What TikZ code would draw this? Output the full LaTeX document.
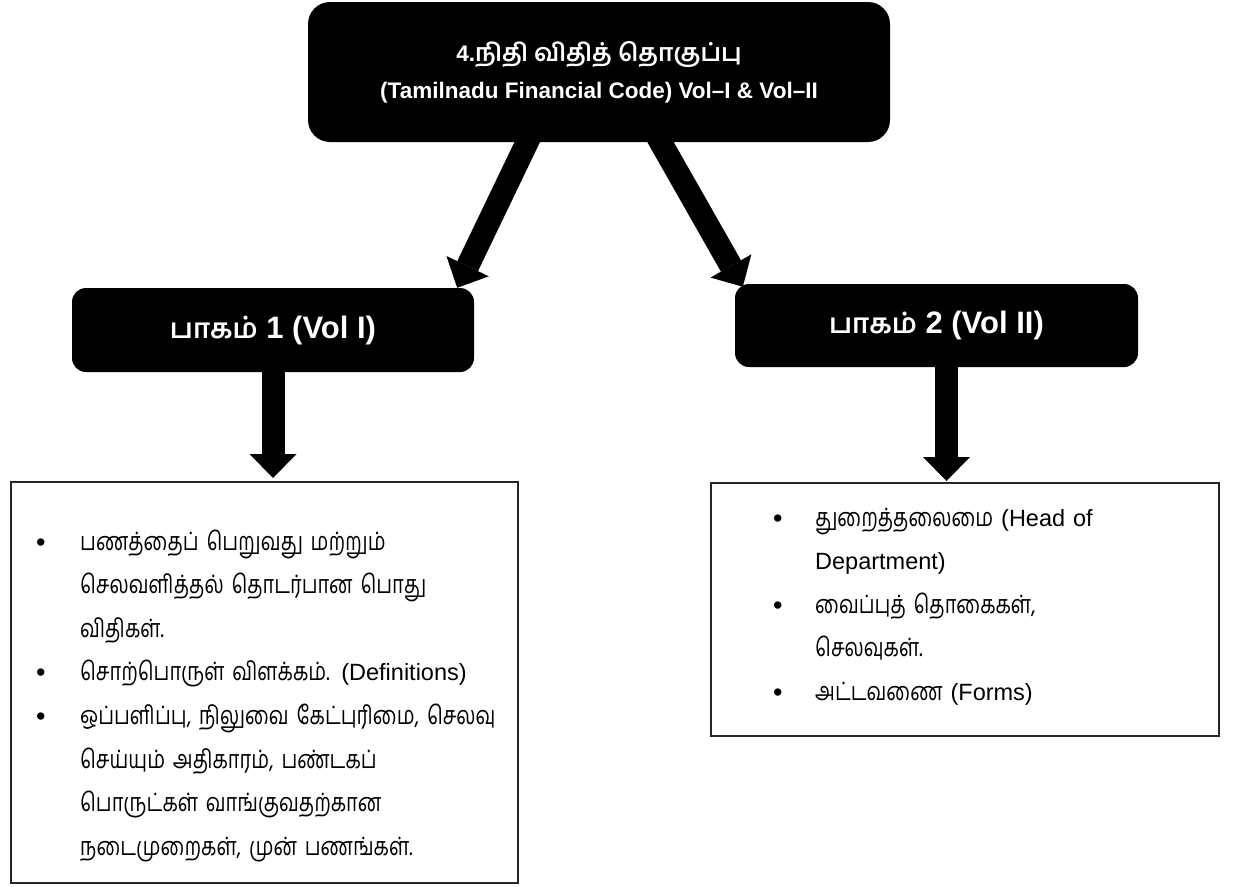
\documentclass[tikz,border=0pt]{standalone}
\usepackage{fontspec}
\setmainfont{Liberation Sans}
\newfontfamily\tamilf[Script=Tamil,Scale=1.077,FakeStretch=0.79]{Hind Madurai}
\newfontfamily\tamilb[Script=Tamil]{Hind Madurai}
\usetikzlibrary{arrows.meta,calc}
\def\bw{44pt}
\newcommand\bul{\makebox[\bw][l]{\fontsize{27}{43.6}\selectfont\raisebox{-1pt}{\textbullet}}}
\newcommand\nob{\hspace*{\bw}}
\tikzset{
  darkbox/.style={fill=black, text=white, inner sep=0pt},
  listbox/.style={draw=black!85, line width=2.4pt, fill=white, inner sep=0pt},
  listtext/.style={anchor=base west, align=left, inner sep=0pt, text width=640pt, font=\fontsize{23.5}{43.6}\selectfont},
  bigarrow/.style={draw=black, line width=23pt, -{Triangle[width=47pt,length=24pt,line width=0pt]}}
}
\begin{document}
\begin{tikzpicture}[x=1pt,y=-1pt]
\useasboundingbox[fill=white] (0,0) rectangle (1246,886);

\node[darkbox, minimum width=582pt, minimum height=140pt, rounded corners=22pt,
      font=\fontsize{22.5}{37}\selectfont\bfseries, align=center] (top) at (599,72)
  {4.{\fontsize{24.5}{37}\selectfont\tamilb நிதி விதித் தொகுப்பு}\\(Tamilnadu Financial Code) Vol–I \& Vol–II};

\node[darkbox, minimum width=402pt, minimum height=84pt, rounded corners=14pt,
      font=\fontsize{31}{36}\selectfont\bfseries] (vol1) at (273,330)
  {{\fontsize{27.5}{36}\selectfont\tamilb பாகம்} 1 (Vol I)};
\node[darkbox, minimum width=403pt, minimum height=83pt, rounded corners=14pt,
      font=\fontsize{31}{36}\selectfont\bfseries] (vol2) at (936.5,325.5)
  {{\fontsize{27.5}{36}\selectfont\tamilb பாகம்} 2 (Vol II)};

\node[listbox, anchor=north west, minimum width=507pt, minimum height=401pt] (b1) at (10,481) {};
\node[listbox, anchor=north west, minimum width=508pt, minimum height=253pt] (b2) at (710,482) {};

\node[listtext] (b1text) at (36,550) {\def\bw{44pt}%
\bul{\tamilf பணத்தைப் பெறுவது மற்றும்}\\
\nob{\tamilf செலவளித்தல் தொடர்பான பொது}\\
\nob{\tamilf விதிகள்.}\\
\bul{\tamilf சொற்பொருள் விளக்கம்.} (Definitions)\\
\bul{\tamilf ஒப்பளிப்பு, நிலுவை கேட்புரிமை, செலவு}\\
\nob{\tamilf செய்யும் அதிகாரம், பண்டகப்}\\
\nob{\tamilf பொருட்கள் வாங்குவதற்கான}\\
\nob{\tamilf நடைமுறைகள், முன் பணங்கள்.}};

\node[listtext] (b2text) at (773,526) {\def\bw{42pt}%
\bul{\tamilf துறைத்தலைமை} (Head of\\
\nob Department)\\
\bul{\tamilf வைப்புத் தொகைகள்,}\\
\nob{\tamilf செலவுகள்.}\\
\bul{\tamilf அட்டவணை} (Forms)};

\draw[bigarrow] ([xshift=-68pt,yshift=8pt]top.south) -- ([xshift=-17pt]vol1.north east);
\draw[bigarrow] ([xshift=57pt,yshift=8pt]top.south) -- ([xshift=8pt,yshift=-3pt]vol2.north west);
\draw[bigarrow] ([yshift=2pt]vol1.south) -- ([yshift=3pt]vol1.south |- b1.north);
\draw[bigarrow] ([xshift=10pt,yshift=2pt]vol2.south) -- ([xshift=10pt,yshift=1pt]vol2.south |- b2.north);
\end{tikzpicture}
\end{document}
